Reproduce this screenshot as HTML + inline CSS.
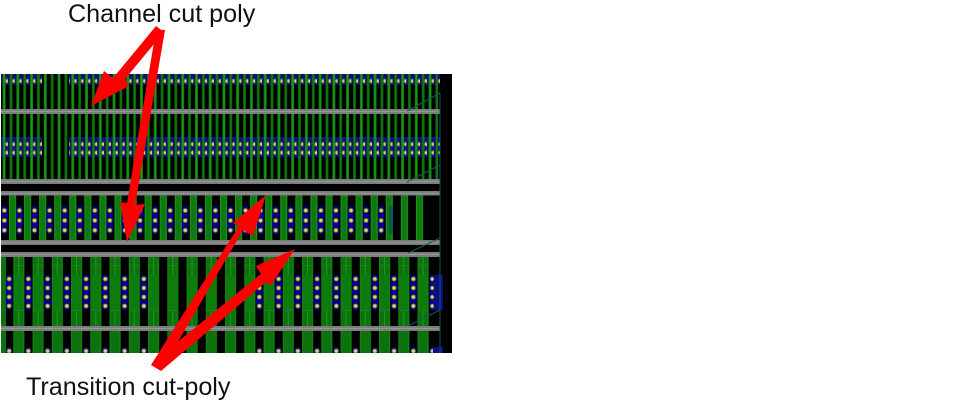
<!DOCTYPE html>
<html><head><meta charset="utf-8"><style>
html,body{margin:0;padding:0;background:#fff;width:963px;height:411px;overflow:hidden}
svg{display:block}
text{font-family:"Liberation Sans",sans-serif;font-size:25.15px;fill:#111}
</style></head><body>
<svg width="963" height="411" viewBox="0 0 963 411" xmlns="http://www.w3.org/2000/svg">
<defs>
<filter id="soft" x="0" y="0" width="100%" height="100%"><feGaussianBlur stdDeviation="0.35"/></filter>
<pattern id="lines" patternUnits="userSpaceOnUse" x="2.6" y="0" width="13.74" height="10">
<rect x="0" width="3" height="10" fill="#0b7a0b"/><rect x="0.9" width="1.3" height="10" fill="#1c9a1c"/>
<rect x="6.87" width="3" height="10" fill="#085c08"/><rect x="7.7" width="1.3" height="10" fill="#117e11"/>
</pattern>
<pattern id="d1" patternUnits="userSpaceOnUse" x="1" y="74" width="6.87" height="50">
<circle cx="6.4" cy="7" r="2.4" fill="#77744f"/><circle cx="6.4" cy="7" r="1.5" fill="#e6d644"/>
</pattern>
<pattern id="d2" patternUnits="userSpaceOnUse" x="1" y="140" width="6.87" height="8.5">
<circle cx="6.4" cy="4.2" r="2.4" fill="#77744f"/><circle cx="6.4" cy="4.2" r="1.5" fill="#e6d644"/>
</pattern>
<pattern id="c2" patternUnits="userSpaceOnUse" x="9" y="0" width="15.07" height="10">
<rect width="7" height="10" fill="#0b7a0b"/><rect x="0" width="1" height="10" fill="#1f951f"/><rect x="6" width="1" height="10" fill="#1f951f"/>
</pattern>
<pattern id="p2" patternUnits="userSpaceOnUse" x="1" y="206" width="15.07" height="28">
<rect x="0.2" y="0" width="6.4" height="28" rx="3" fill="#05058c"/>
<g fill="#77744f"><circle cx="3.4" cy="4.5" r="2.4"/><circle cx="3.4" cy="14.5" r="2.4"/><circle cx="3.4" cy="24.3" r="2.4"/></g>
<g fill="#e6d644"><circle cx="3.4" cy="4.5" r="1.6"/><circle cx="3.4" cy="14.5" r="1.6"/><circle cx="3.4" cy="24.3" r="1.6"/></g>
</pattern>
<pattern id="c3" patternUnits="userSpaceOnUse" x="13.3" y="257" width="19.25" height="96">
<rect width="11" height="96" fill="#0a720a"/>
<rect x="0" width="1" height="96" fill="#148414"/><rect x="10" width="1" height="96" fill="#148414"/>
<rect x="1" y="18" width="9" height="35" fill="#0b7c0b"/>
<rect x="5" y="0" width="1" height="18" fill="#1f9a1f"/><rect x="5" y="53" width="1" height="16" fill="#1f9a1f"/>
<rect x="0" y="8" width="11" height="1" fill="#148414"/><rect x="0" y="53" width="11" height="1" fill="#148414"/>
</pattern>
<pattern id="p3" patternUnits="userSpaceOnUse" x="5.8" y="275" width="19.25" height="35">
<rect x="0" y="0" width="6.6" height="35" rx="3.2" fill="#05058c"/>
<g fill="#77744f"><circle cx="3.3" cy="4" r="2.4"/><circle cx="3.3" cy="13" r="2.4"/><circle cx="3.3" cy="22" r="2.4"/><circle cx="3.3" cy="31" r="2.4"/></g>
<g fill="#e6d644"><circle cx="3.3" cy="4" r="1.6"/><circle cx="3.3" cy="13" r="1.6"/><circle cx="3.3" cy="22" r="1.6"/><circle cx="3.3" cy="31" r="1.6"/></g>
</pattern>
<pattern id="p4" patternUnits="userSpaceOnUse" x="5.8" y="347" width="19.25" height="12">
<rect x="0" y="0" width="6.6" height="12" rx="3" fill="#05058c"/>
<circle cx="3.3" cy="4" r="2.4" fill="#77744f"/><circle cx="3.3" cy="4" r="1.6" fill="#e6d644"/>
</pattern>
</defs>

<rect x="1" y="74" width="451" height="279" fill="#000"/>

<g filter="url(#soft)">
<!-- top section -->
<rect x="1" y="74" width="41" height="11" fill="#0a0a80"/>
<rect x="69" y="74" width="371" height="11" fill="#0a0a80"/>
<rect x="1" y="137" width="41" height="20" fill="#0a0a90"/>
<rect x="69" y="137" width="371" height="20" fill="#0a0a90"/>
<rect x="1" y="74" width="437" height="106" fill="url(#lines)"/>
<rect x="1" y="74" width="41" height="11" fill="url(#d1)"/>
<rect x="69" y="74" width="371" height="11" fill="url(#d1)"/>
<rect x="1" y="140" width="41" height="17" fill="url(#d2)"/>
<rect x="69" y="140" width="371" height="17" fill="url(#d2)"/>

<!-- middle section -->
<rect x="9" y="195" width="415" height="45" fill="url(#c2)"/>
<rect x="1" y="206" width="384" height="28" fill="url(#p2)"/>
<rect x="389" y="206" width="4" height="28" fill="#0d5a4a"/>

<!-- lower section -->
<rect x="1" y="257" width="5" height="96" fill="#0a720a"/>
<rect x="13" y="257" width="417" height="96" fill="url(#c3)"/>
<rect x="5" y="275" width="146" height="35" fill="url(#p3)"/>
<rect x="255" y="275" width="181" height="35" fill="url(#p3)"/>
<rect x="5" y="347" width="146" height="6" fill="url(#p4)"/>
<rect x="255" y="347" width="181" height="6" fill="url(#p4)"/>
<rect x="433" y="275" width="10" height="35" fill="#0f0f86"/>
<g fill="#e6d644"><circle cx="432.3" cy="279" r="1.6"/><circle cx="432.3" cy="288" r="1.6"/><circle cx="432.3" cy="297" r="1.6"/><circle cx="432.3" cy="306" r="1.6"/></g>
<rect x="433" y="347" width="10" height="6" fill="#0f0f86"/>

<!-- poly bars -->
<g fill="#7d7d7d">
<rect x="1" y="109" width="439" height="5"/>
<rect x="1" y="179" width="439" height="5"/>
<rect x="1" y="191" width="439" height="4.5"/>
<rect x="1" y="240" width="439" height="5"/>
<rect x="1" y="252" width="439" height="5"/>
<rect x="1" y="326" width="439" height="5"/>
</g>
<g fill="#a8a8a8" opacity=".6">
<rect x="1" y="111" width="439" height="1"/><rect x="1" y="181" width="439" height="1"/><rect x="1" y="193" width="439" height="1"/><rect x="1" y="242" width="439" height="1"/><rect x="1" y="254" width="439" height="1"/><rect x="1" y="328" width="439" height="1"/>
</g>

<!-- teal lines -->
<g stroke="#0f5a5a" stroke-width="1" fill="none">
<path d="M407 111L440 93M407 182L440 165M408 253L440 238M408 326L440 310M440 93V353"/>
</g>
</g>
<rect x="441" y="74" width="11" height="201" fill="#000"/>
<rect x="443" y="310" width="9" height="43" fill="#000"/>

<!-- arrows -->
<g fill="#fe0000">
<polygon points="156,26 164,32 125,79 129,86 91,106 104,71 113,78"/>
<polygon points="156,30 165,30 135,205 145,204 127,242 120,202 127,203"/>
<polygon points="151,365 161,371 243,230 253,236 266,195 233,223 239,226"/>
<polygon points="153,362 161,371 266,282 271,285 295,249 256,266 261,274"/>
</g>

<text x="68" y="22">Channel cut poly</text>
<text x="26" y="395">Transition cut-poly</text>
</svg>
</body></html>
